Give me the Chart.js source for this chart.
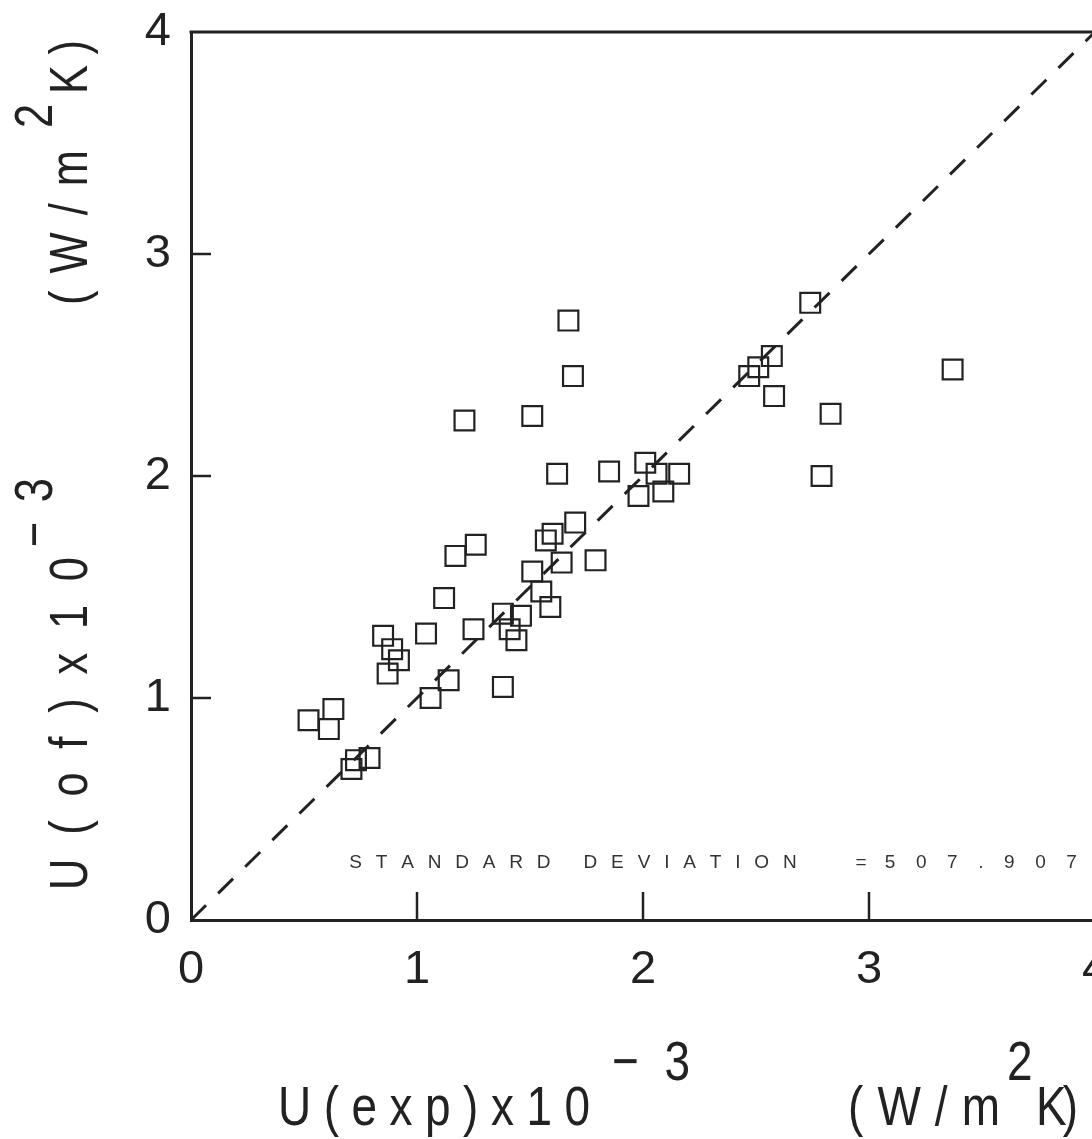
<!DOCTYPE html>
<html>
<head>
<meta charset="utf-8">
<script src="https://cdn.jsdelivr.net/npm/chart.js@4.4.0/dist/chart.umd.min.js"></script>
<style>
  html, body { margin: 0; padding: 0; background: #fff; overflow: hidden; }
  #wrap { width: 1120px; height: 1139px; }
</style>
</head>
<body>
<div id="wrap"><canvas id="chart" width="1120" height="1139"></canvas></div>
<script>
// U(exp) x 10^-3 and U(of) x 10^-3
const uExp = [0.52, 0.63, 0.61, 0.71, 0.73, 0.79, 0.85, 0.89, 0.92, 0.87,
              1.04, 1.12, 1.25, 1.14, 1.06, 1.38, 1.38, 1.46, 1.41, 1.44,
              1.51, 1.55, 1.59, 1.64, 1.79, 1.17, 1.26, 1.70, 1.60, 1.57,
              1.67, 1.69, 1.21, 1.51, 1.62, 1.85, 2.01, 2.06, 2.16, 1.98,
              2.09, 2.74, 2.57, 2.51, 2.47, 2.58, 3.37, 2.83, 2.79];
const uOf  = [0.90, 0.95, 0.86, 0.68, 0.72, 0.73, 1.28, 1.22, 1.17, 1.11,
              1.29, 1.45, 1.31, 1.08, 1.00, 1.05, 1.38, 1.37, 1.31, 1.26,
              1.57, 1.48, 1.41, 1.61, 1.62, 1.64, 1.69, 1.79, 1.74, 1.71,
              2.70, 2.45, 2.25, 2.27, 2.01, 2.02, 2.06, 2.01, 2.01, 1.91,
              1.93, 2.78, 2.54, 2.49, 2.45, 2.36, 2.48, 2.28, 2.00];

// the 1:1 reference line
const diagX = [0, 4];
const diagY = [0, 4];

const innerTicks = [1, 2, 3];
const stdDevLabel = 'STANDARD DEVIATION';
const stdDevValue = '507.907';

const FONT = "'Liberation Sans', Arial, sans-serif";
const INK = '#222';
const SQUEEZE = 0.82;   // plotter lettering is narrow

// spread chars of text evenly between x0 and x1 (squeezed glyphs)
function spread(ctx, text, x0, x1, y, squeeze) {
    const chars = [...text];
    const widths = chars.map(ch => ctx.measureText(ch).width * squeeze);
    const natural = widths.reduce((a, b) => a + b, 0);
    const gap = chars.length > 1 ? (x1 - x0 - natural) / (chars.length - 1) : 0;
    let x = x0;
    chars.forEach((ch, i) => {
        ctx.save();
        ctx.translate(x, y);
        ctx.scale(squeeze, 1);
        ctx.fillText(ch, 0, 0);
        ctx.restore();
        x += widths[i] + gap;
    });
}

// pieces of an axis title: [text, start, end, raised]
function drawTitle(ctx, parts, base, raise) {
    parts.forEach(([t, a, b, sup]) => spread(ctx, t, a, b, sup ? base - raise : base, SQUEEZE));
}

const framePlugin = {
    id: 'frame',
    afterDraw(chart) {
        const ctx = chart.ctx;
        const { left, right, top, bottom } = chart.chartArea;
        const xs = chart.scales.x, ys = chart.scales.y;

        ctx.save();
        ctx.strokeStyle = INK;
        ctx.lineCap = 'butt';

        // top border
        ctx.lineWidth = 3;
        ctx.beginPath();
        ctx.moveTo(left - 1.5, top);
        ctx.lineTo(right + 30, top);
        ctx.stroke();

        // inward tick marks
        ctx.lineWidth = 2.5;
        innerTicks.forEach(v => {
            const px = xs.getPixelForValue(v);
            ctx.beginPath();
            ctx.moveTo(px, bottom);
            ctx.lineTo(px, bottom - 28);
            ctx.stroke();
            const py = ys.getPixelForValue(v);
            ctx.beginPath();
            ctx.moveTo(left, py);
            ctx.lineTo(left + 20, py);
            ctx.stroke();
        });

        // standard deviation note
        ctx.fillStyle = '#333';
        ctx.font = '19px ' + FONT;
        ctx.textBaseline = 'alphabetic';
        const ty = ys.getPixelForValue(0.235);
        spread(ctx, stdDevLabel, xs.getPixelForValue(0.70), xs.getPixelForValue(2.68), ty, 1);
        spread(ctx, '=', xs.getPixelForValue(2.94), xs.getPixelForValue(2.98), ty, 1);
        spread(ctx, stdDevValue, xs.getPixelForValue(3.07), xs.getPixelForValue(3.92), ty, 1);

        // axis titles
        ctx.fillStyle = INK;
        ctx.font = '56px ' + FONT;
        drawTitle(ctx, [
            ['U(exp)x10', 278, 590, false],
            ['\u22123', 612, 690, true],
            ['(W/m', 848, 1000, false],
            ['2', 1007, 1030, true],
            ['K)', 1036, 1078, false]
        ], 1125, 45);

        // y title, reading upward
        ctx.font = '53px ' + FONT;
        ctx.translate(87, 890);
        ctx.rotate(-Math.PI / 2);
        drawTitle(ctx, [
            ['U(of)x10', 0, 333, false],
            ['\u22123', 343, 412, true],
            ['(W/m', 585, 740, false],
            ['2', 762, 786, true],
            ['K)', 796, 850, false]
        ], 0, 35);

        ctx.restore();
    }
};

const points = uExp.map((v, i) => ({ x: v, y: uOf[i] }));
const diag = diagX.map((v, i) => ({ x: v, y: diagY[i] }));

new Chart(document.getElementById('chart'), {
    type: 'scatter',
    data: {
        datasets: [
            {
                data: points,
                pointStyle: 'rect',
                pointRadius: 14,
                borderColor: INK,
                borderWidth: 2.2,
                backgroundColor: 'rgba(0,0,0,0)'
            },
            {
                type: 'line',
                data: diag,
                borderColor: INK,
                borderWidth: 3,
                borderDash: [21, 17],
                pointRadius: 0,
                fill: false
            }
        ]
    },
    options: {
        responsive: false,
        animation: false,
        layout: { padding: { left: 0, top: 32, right: 25, bottom: 0 } },
        plugins: { legend: { display: false }, tooltip: { enabled: false } },
        scales: {
            x: {
                type: 'linear', min: 0, max: 4,
                ticks: { stepSize: 1, color: INK, padding: 22, maxRotation: 0,
                         font: { family: FONT, size: 47 } },
                grid: { display: false, drawTicks: false },
                border: { display: true, color: INK, width: 3 },
                afterFit(s) { s.height = 219; s.paddingLeft = 0; s.paddingRight = 0; }
            },
            y: {
                type: 'linear', min: 0, max: 4,
                ticks: { stepSize: 1, color: INK, padding: 20,
                         font: { family: FONT, size: 47 } },
                grid: { display: false, drawTicks: false },
                border: { display: true, color: INK, width: 3 },
                afterFit(s) { s.width = 191; s.paddingTop = 0; s.paddingBottom = 0; }
            }
        }
    },
    plugins: [framePlugin]
});
</script>
</body>
</html>
